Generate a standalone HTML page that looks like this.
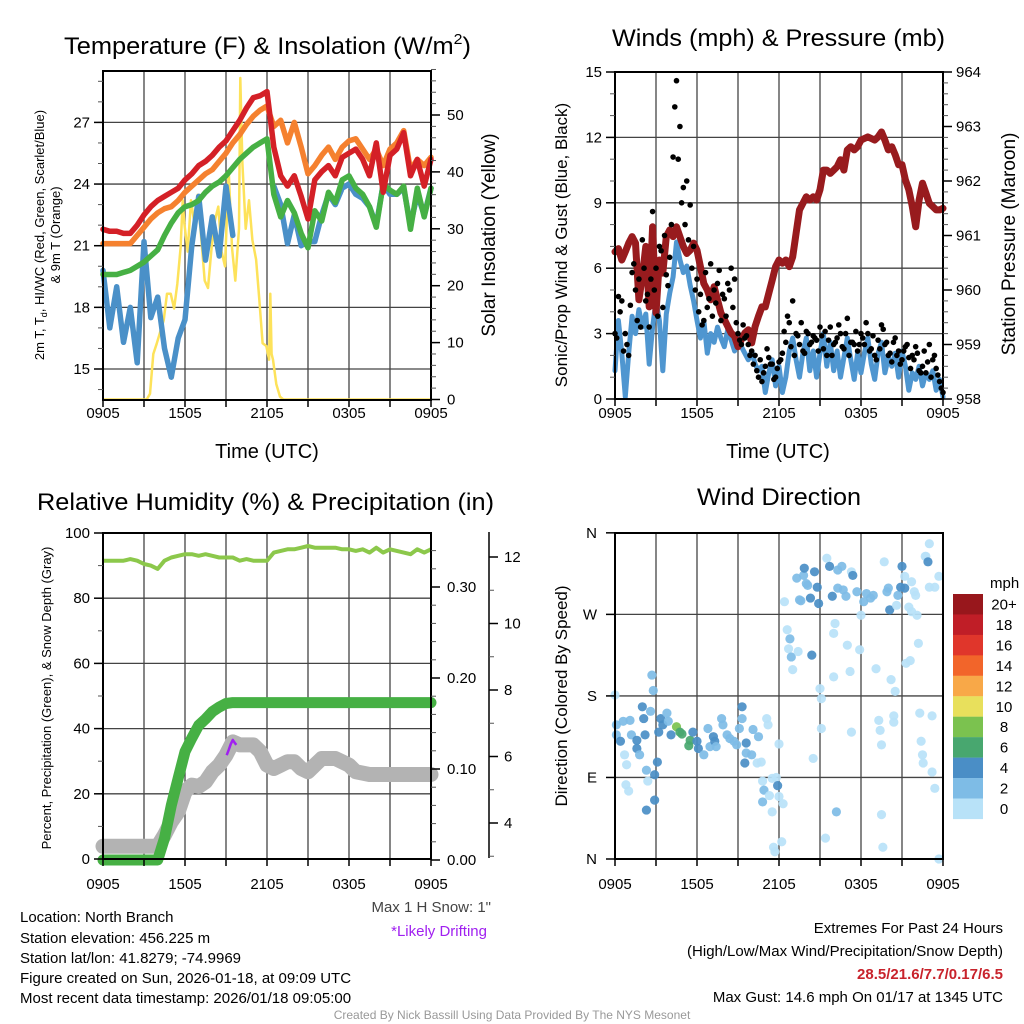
<!DOCTYPE html>
<html><head><meta charset="utf-8"><title>NYS Mesonet - North Branch</title>
<style>
html,body{margin:0;padding:0;background:#fff;}
svg{display:block;font-family:"Liberation Sans",Arial,sans-serif;}
</style></head>
<body>
<svg id="fig" width="1024" height="1024" viewBox="0 0 1024 1024" xmlns="http://www.w3.org/2000/svg">
<rect width="1024" height="1024" fill="#fff"/>
<g id="p1"></g>
<g id="p2"></g>
<g id="p3"></g>
<g id="p4"></g>

<text x="64" y="54" font-size="24" textLength="407" lengthAdjust="spacingAndGlyphs">Temperature (F) &amp; Insolation (W/m<tspan font-size="15" dy="-10">2</tspan><tspan dy="10">)</tspan></text>
<text x="612" y="46" font-size="24" textLength="333" lengthAdjust="spacingAndGlyphs">Winds (mph) &amp; Pressure (mb)</text>
<text x="37" y="510" font-size="24" textLength="457" lengthAdjust="spacingAndGlyphs">Relative Humidity (%) &amp; Precipitation (in)</text>
<text x="697" y="505" font-size="24" textLength="164" lengthAdjust="spacingAndGlyphs">Wind Direction</text>

<text x="267" y="458" font-size="20" text-anchor="middle">Time (UTC)</text>
<text x="778" y="458" font-size="20" text-anchor="middle">Time (UTC)</text>

<text transform="translate(44,235) rotate(-90)" font-size="13" text-anchor="middle">2m T, T<tspan font-size="9" dy="3">d</tspan><tspan dy="-3">, HI/WC (Red, Green, Scarlet/Blue)</tspan></text>
<text transform="translate(60,235) rotate(-90)" font-size="13" text-anchor="middle">&amp; 9m T (Orange)</text>
<text transform="translate(495,235) rotate(-90)" font-size="19" text-anchor="middle">Solar Insolation (Yellow)</text>
<text transform="translate(567,245) rotate(-90)" font-size="17" text-anchor="middle">Sonic/Prop Wind &amp; Gust (Blue, Black)</text>
<text transform="translate(1015,244) rotate(-90)" font-size="19" text-anchor="middle">Station Pressure (Maroon)</text>
<text transform="translate(51,698) rotate(-90)" font-size="13" text-anchor="middle">Percent, Precipitation (Green), &amp; Snow Depth (Gray)</text>
<text transform="translate(567,696) rotate(-90)" font-size="17" text-anchor="middle">Direction (Colored By Speed)</text>

<g font-size="15">
<text x="20" y="922">Location: North Branch</text>
<text x="20" y="943">Station elevation: 456.225 m</text>
<text x="20" y="963">Station lat/lon: 41.8279; -74.9969</text>
<text x="20" y="983">Figure created on Sun, 2026-01-18, at 09:09 UTC</text>
<text x="20" y="1003">Most recent data timestamp: 2026/01/18 09:05:00</text>
</g>
<text x="491" y="912" font-size="15" fill="#444" text-anchor="end">Max 1 H Snow: 1"</text>
<text x="487" y="936" font-size="15" fill="#a020f0" text-anchor="end">*Likely Drifting</text>
<g font-size="15" text-anchor="end">
<text x="1003" y="933">Extremes For Past 24 Hours</text>
<text x="1003" y="956">(High/Low/Max Wind/Precipitation/Snow Depth)</text>
<text x="1003" y="979" fill="#c8232c" font-weight="bold">28.5/21.6/7.7/0.17/6.5</text>
<text x="1003" y="1002">Max Gust: 14.6 mph On 01/17 at 1345 UTC</text>
</g>
<text x="512" y="1019" font-size="12" fill="#999" text-anchor="middle">Created By Nick Bassill Using Data Provided By The NYS Mesonet</text>
</svg>
<script>
// ---------- DATA ----------
const xTickLabels = ["0905","1505","2105","0305","0905"];
// Panel 1 (half-hour steps from 0905 UTC)
const tempRed = [21.8,21.7,21.7,21.6,21.6,22.0,22.5,22.9,23.2,23.4,23.6,23.8,24.2,24.5,24.9,25.1,25.4,25.8,26.1,26.6,27.1,27.7,28.2,28.3,28.5,25.8,24.4,23.9,24.4,23.4,22.3,24.2,24.6,24.9,24.4,25.3,25.5,25.7,25.2,24.4,26.0,23.6,25.4,25.7,26.5,24.4,25.2,23.9,25.2];
const temp9m = [21.1,21.1,21.1,21.1,21.1,21.5,21.9,22.3,22.6,22.8,22.9,23.2,23.6,23.9,24.2,24.5,24.7,25.1,25.5,26.0,26.4,26.9,27.3,27.6,27.8,26.8,27.1,26.0,27.0,25.8,24.5,24.9,25.4,25.8,25.2,25.8,26.1,26.2,25.7,25.2,25.7,24.9,25.7,26.0,26.6,24.7,25.2,24.9,25.3];
const dewGreen = [19.6,19.6,19.6,19.7,19.8,20.0,20.2,20.5,20.8,21.5,22.1,22.6,22.9,23.0,23.2,23.6,23.9,24.1,24.4,24.8,25.2,25.5,25.8,26.0,26.2,23.5,22.4,23.2,22.6,21.6,20.9,22.7,22.2,23.6,23.1,24.2,24.4,23.8,23.5,22.9,21.9,24.0,23.7,23.5,23.9,21.8,23.8,22.4,23.8];
const windChill = [19.8,17.0,19.0,16.3,18.0,15.3,21.2,17.5,18.5,16.0,14.6,16.5,17.4,21.0,23.4,20.3,22.4,20.5,23.9,21.5,null,null,null,null,null,23.9,23.0,21.1,22.5,21.0,21.2,21.2,22.5,23.5,23.0,23.8,24.0,23.5,23.3,22.9,22.0,24.0,23.5,23.5,23.8,22.0,23.5,22.5,23.8];
const insHours = [0,3.2,3.44,3.68,3.93,4.2,4.44,4.68,4.95,5.2,5.44,5.68,5.83,5.95,6.2,6.44,6.68,6.93,7.2,7.44,7.68,7.95,8.2,8.44,8.68,8.93,9.2,9.44,9.68,9.95,10.05,10.2,10.44,10.68,10.93,11.2,11.44,11.68,11.95,12.15,12.24,12.34,12.44,12.68,12.95,13.2,24];
const insValues = [0,0,1,8,9.8,12,13.9,18.6,18.6,16,20.3,26.7,35,31,26,35,31,36,28,20.9,19.6,26.7,31.6,33.9,26,23.4,40.2,26.7,20.9,30,56.5,41.5,30,35,28,24.6,17.6,9.9,9.4,7,18.6,8,7,2.7,0.5,0,0];
// Panel 2 (quarter-hour steps)
const pressure = [960.70,960.76,960.55,960.70,960.86,960.98,960.86,959.82,960.24,960.80,959.69,961.16,959.58,960.55,960.31,960.98,961.10,960.98,961.16,960.98,960.80,960.67,960.73,960.86,960.73,960.43,960.12,960.00,959.82,960.06,959.82,959.58,959.46,959.33,959.21,959.15,958.96,959.09,959.21,959.27,959.03,959.33,959.52,959.69,959.69,959.94,960.18,960.43,960.55,960.49,960.55,960.43,960.61,961.04,961.47,961.59,961.71,961.65,961.71,961.65,961.84,962.20,962.20,962.14,962.20,962.26,962.39,962.20,962.57,962.63,962.57,962.63,962.75,962.78,962.81,962.78,962.75,962.81,962.90,962.75,962.57,962.63,962.48,962.30,962.30,962.02,961.84,961.53,961.16,961.65,961.96,961.78,961.59,961.53,961.47,961.47,961.50];
const windSpeed = [1.3,3.6,2.1,0.1,2.1,3.8,3.0,4.1,3.3,3.9,1.6,3.3,4.5,3.6,1.3,3.9,4.85,5.6,7.2,6.4,5.8,6.1,5.2,4.5,3.6,2.8,3.6,2.1,3.0,2.6,3.3,2.8,2.4,3.2,2.7,2.2,2.8,2.4,2.1,1.8,2.2,1.6,1.3,1.5,0.3,1.2,1.8,0.6,1.5,0.3,1.0,2.2,2.8,1.8,1.0,2.1,2.8,1.3,2.2,1.0,2.1,3.0,1.5,2.6,1.3,2.2,1.0,1.9,2.8,1.8,0.9,2.1,1.2,2.1,2.8,1.6,0.9,2.1,2.6,1.2,1.9,1.5,2.1,1.0,2.2,1.5,0.4,1.2,0.9,1.5,0.6,1.2,0.9,1.3,0.4,0.9,0.1];
const gustA = [3.0,4.7,4.5,3.0,2.0,5.8,5.0,5.5,7.3,4.5,3.3,8.6,6.0,7.0,4.2,5.7,6.5,11.1,14.6,12.5,9.7,10.0,8.9,7.0,5.5,4.8,3.6,4.2,6.2,5.0,5.3,3.6,4.6,5.3,6.0,5.5,3.0,2.5,2.8,2.5,2.2,2.0,1.0,0.8,1.5,1.9,1.6,1.0,1.7,2.1,2.6,3.5,4.5,3.0,2.5,2.2,3.1,2.5,2.9,2.7,3.3,2.3,2.0,3.3,2.5,2.8,3.0,2.3,3.7,2.6,2.5,2.2,3.0,2.5,3.0,2.3,2.0,2.7,3.4,2.5,2.0,1.7,2.8,2.2,1.8,2.4,1.9,2.0,2.4,1.3,1.5,1.2,2.5,1.8,1.4,0.8,0.3];
const gustB = [2.8,4.0,2.2,2.5,4.3,6.2,3.6,3.3,6.0,4.8,5.5,5.0,3.8,6.8,7.5,5.2,8.0,13.4,11.0,9.0,8.0,7.3,6.0,5.0,4.0,3.4,5.8,4.6,3.8,4.4,5.9,4.8,3.8,5.0,4.2,3.5,2.7,3.4,2.9,2.0,1.6,1.3,1.8,1.2,2.3,1.6,0.9,1.4,1.8,3.1,3.8,2.4,2.0,2.9,3.5,2.1,3.0,2.6,2.8,2.2,2.9,3.1,2.7,2.0,2.6,3.4,2.4,3.0,2.0,2.6,3.1,2.5,2.8,3.5,2.2,2.9,1.8,2.3,3.2,2.6,2.1,2.6,2.0,1.6,2.2,2.5,1.4,1.8,2.1,1.2,2.2,1.7,1.0,2.0,1.1,0.5];
// Panel 3 (half-hour steps)
const relHum = [91.5,91.5,91.5,91.5,92,91.5,90.5,90,89,91.5,92.5,93,93.5,93.5,93,93.5,93,92.5,92.5,92.5,91.5,92,91.5,91.5,91.5,94,94.5,95,95,95.5,96,95.5,95.5,95.5,95.5,95,95,94.5,95,94,95.5,94,95,94.5,94,93.5,95,94,95];
const precip = [0,0,0,0,0,0,0,0,0,0.024,0.06,0.09,0.119,0.134,0.148,0.155,0.163,0.168,0.172,0.173,0.173,0.173,0.173,0.173,0.173,0.173,0.173,0.173,0.173,0.173,0.173,0.173,0.173,0.173,0.173,0.173,0.173,0.173,0.173,0.173,0.173,0.173,0.173,0.173,0.173,0.173,0.173,0.173,0.173];
const snowDepth = [3.3,3.3,3.3,3.3,3.3,3.3,3.3,3.3,3.3,3.64,4.04,4.34,4.94,5.14,5.1,5.24,5.54,5.74,6.04,6.44,6.35,6.35,6.35,6.15,5.74,5.64,5.74,5.84,5.84,5.64,5.54,5.74,5.94,5.94,5.94,5.84,5.74,5.54,5.5,5.46,5.46,5.46,5.46,5.46,5.46,5.46,5.46,5.46,5.46];
const driftHours = [9.05,9.2,9.35,9.5,9.62,9.75];
const driftSnow = [6.04,6.2,6.38,6.5,6.42,6.35];
// Panel 4
const dirHours = [0,0.1,0.6,1.1,0.1,0.4,0.7,0.85,0.8,1,1.2,1.6,1.6,1.8,2,2.1,2.2,2.3,2.4,2.3,2.7,2.8,2.6,2.9,2.9,3.1,3.2,3.35,3.5,3.8,3.9,4.1,4.5,4.75,4.9,5.5,5.4,5.7,6,6.1,6.5,6.8,6.95,7.2,7.3,7.4,7.8,7.9,8.2,8.4,8.7,8.9,9.1,9.3,9.3,9.6,9.5,9.6,10,10.1,10.5,10.4,10.7,11.1,11.2,10.8,10.9,10.8,11.3,11.5,11.5,11.8,11.9,12,12,12.3,11.6,11.7,12.2,12.4,12.6,12.7,12.8,12.9,13,13.4,13.3,13.8,13.85,14,14.1,13.5,13.6,14.3,14.4,14.5,14.6,14.8,14.9,15,15.1,15.1,15.4,15.5,15.7,15.9,16,16.1,16,16.2,16.3,16.3,16.6,16.7,16.9,17,17.2,17.3,17.3,17.4,17.7,17.9,18,18.2,18.4,18.7,18.9,19.1,19.3,19.4,19.5,19.5,19.6,19.7,19.9,20,20.1,20.2,20.4,20.4,20.5,20.6,20.7,20.9,21,21.2,21.2,21.3,21.5,21.6,21.7,21.7,21.9,22,22.1,22.2,22.3,22.4,22.5,22.55,22.7,22.75,22.9,23,23.2,23.2,23.4,23,23.4,23.7,23.7];
const dirDeg = [181,148,152,153,137,130,115,104,82,75,137,131,122,115,168,155,137,98,86,54,203,186,163,93,65,107,140,155,148,161,152,137,146,140,138,131,125,140,130,122,115,144,124,135,130,124,155,148,137,133,130,126,144,168,155,128,106,117,115,143,135,106,107,155,148,86,76,63,70,89,52,90,81,127,69,61,13,8,19,284,253,232,243,223,209,229,310,313,321,304,302,286,285,288,225,111,317,300,282,188,177,144,23,332,323,290,201,260,249,52,319,299,323,297,290,236,207,140,317,313,295,231,269,284,293,288,291,210,153,142,126,49,13,328,295,299,275,198,158,151,185,280,291,300,323,312,299,216,278,219,273,306,295,291,269,238,161,130,115,106,334,334,328,348,158,96,78,300,300,312,0];
const dirSpeed = [1,3,3,3,3,4.5,1,1,1,1,3,4.5,4.5,3,4.5,4.5,4.5,3,1,4.5,3,3,3,4.5,4.5,4.5,4.5,4.5,4.5,3,3,4.5,8.5,7,7,7,7,4.5,4.5,4.5,3,3,3,4.5,4.5,3,3,3,3,3,3,3,3,4.5,3,4.5,4.5,3,3,3,3,1,1,1,1,1,3,3,1,1,1,1,4.5,1,1,1,1,1,1,1,1,1,3,3,1,1,3,3,4.5,3,3,3,3,4.5,4.5,1,4.5,4.5,4.5,1,1,1,1,1,4.5,4.5,1,1,1,3,3,3,3,3,3,1,1,1,1,4.5,3,1,1,3,3,3,3,1,1,1,1,1,1,1,3,3,4.5,1,1,1,1,1,3,4.5,4.5,1,4.5,1,1,1,1,1,1,1,1,1,1,1,1,1,1,1,4.5,1,1,1,1,1,1,1,1,1];
const cbarLabels = ["20+","18","16","14","12","10","8","6","4","2","0"];
const cbarColors = ["#98171c","#c01e27","#e0362b","#f2652a","#f8a848","#e8e05c","#7bc24f","#48a76f","#4a8ec6","#7ebce6","#b8e2f8"];

// ---------- HELPERS ----------
const NS = "http://www.w3.org/2000/svg";
function mk(parent, tag, attrs){ const e=document.createElementNS(NS,tag); for(const k in attrs) e.setAttribute(k,attrs[k]); parent.appendChild(e); return e; }
function hourX(x0){ return h => x0 + h*328/24; }
function speedColor(s){ const idx = Math.min(10, Math.max(0, 10 - Math.floor(s/2))); return cbarColors[idx]; }

function frame(g, x0, y0, y1, gridYs, name){
  const X = hourX(x0);
  for(let h=3; h<24; h+=3){
    const gl = mk(g,"line",{x1:X(h),x2:X(h),y1:y0,y2:y1,stroke:"#444","stroke-width":1.3});
    
    
  }
  gridYs.forEach(y=>{
    const gl = mk(g,"line",{x1:x0,x2:x0+328,y1:y,y2:y,stroke:"#444","stroke-width":1.3});
    
    
  });
}
function border(g,x0,y0,y1,name){
  const r = mk(g,"rect",{x:x0,y:y0,width:328,height:y1-y0,fill:"none",stroke:"#000","stroke-width":2});
  
  
}
function xAxis(g, x0, y1, labelY, name){
  const X = hourX(x0);
  for(let h=0; h<=24; h+=3){
    const t = mk(g,"line",{x1:X(h),x2:X(h),y1:y1,y2:y1+7,stroke:"#000","stroke-width":1.5});
    
    
  }
  xTickLabels.forEach((lab,i)=>{
    const t = mk(g,"text",{x:X(i*6),y:labelY,"font-size":15,"text-anchor":"middle"});
    t.textContent = lab;
    
    
  });
}
function yAxis(g, ax, side, yFn, majors, minors, fmt, name, labelOff){
  const dir = side==="left" ? -1 : 1;
  minors.forEach(v=>{
    const t = mk(g,"line",{x1:ax,x2:ax+dir*5,y1:yFn(v),y2:yFn(v),stroke:"#555","stroke-width":1});
    
    
  });
  majors.forEach(v=>{
    const y=yFn(v);
    const t = mk(g,"line",{x1:ax,x2:ax+dir*9,y1:y,y2:y,stroke:"#000","stroke-width":1.5});
    
    
    const lab = mk(g,"text",{x:ax+dir*(labelOff||13),y:y+5,"font-size":15,"text-anchor":side==="left"?"end":"start"});
    lab.textContent = fmt(v);
    
    
  });
}
function range(a,b,s){ const r=[]; for(let v=a; v<=b+1e-9; v+=s) r.push(+v.toFixed(4)); return r; }
function linePath(hours, vals, X, Y){
  let d="", pen=false;
  vals.forEach((v,i)=>{ if(v===null){pen=false;return;} d += (pen?"L":"M")+X(hours[i]).toFixed(1)+","+Y(v).toFixed(1); pen=true; });
  return d;
}
const halfHours = tempRed.map((_,i)=>i*0.5);
const quarterHours = pressure.map((_,i)=>i*0.25);

// ---------- PANEL 1 ----------
(function(){
  const g=document.getElementById("p1");
  const x0=103, y0=71, y1=400, X=hourX(x0);
  const yT = t => 369-(t-15)*20.55;
  const yI = v => 399.5-v*5.69;
  frame(g,x0,y0,y1,[15,18,21,24,27].map(yT),"temp");
  const ins = mk(g,"path",{d:linePath(insHours,insValues,X,yI),fill:"none",stroke:"#fde25a","stroke-width":2.5,"stroke-linejoin":"round"});
  
  
  [[windChill,"#4a90c8","wind-chill-line"],[dewGreen,"#46b044","dewpoint-line"],[temp9m,"#f5812f","temp-9m-line"],[tempRed,"#d42027","temp-2m-line"]].forEach(([arr,col,nm])=>{
    const p = mk(g,"path",{d:linePath(halfHours,arr,X,yT),fill:"none",stroke:col,"stroke-width":5.5,"stroke-linejoin":"round","stroke-linecap":"round"});
    
    
  });
  border(g,x0,y0,y1,"temp");
  yAxis(g,x0,"left",yT,[15,18,21,24,27],range(14,29,1),v=>String(v),"temp-y",13);
  yAxis(g,x0+328,"right",yI,[0,10,20,30,40,50],range(0,58,2),v=>String(v),"insolation-y",16);
  xAxis(g,x0,y1,418,"temp");
})();

// ---------- PANEL 2 ----------
(function(){
  const g=document.getElementById("p2");
  const x0=615, y0=72, y1=399, X=hourX(x0);
  const yW = m => 399-m*21.8;
  const yP = p => 399-(p-958)*54.5;
  frame(g,x0,y0,y1,[3,6,9,12].map(yW),"winds");
  const w = mk(g,"path",{d:linePath(quarterHours,windSpeed,X,yW),fill:"none",stroke:"#4f96d0","stroke-width":5,"stroke-linejoin":"round","stroke-linecap":"round"});
  
  
  const p = mk(g,"path",{d:linePath(quarterHours,pressure,X,yP),fill:"none",stroke:"#981b1e","stroke-width":7,"stroke-linejoin":"round","stroke-linecap":"round"});
  
  
  gustA.forEach((v,i)=>{
    const c = mk(g,"circle",{cx:X(i*0.25),cy:yW(v),r:2.8,fill:"#000"});
    
    
  });
  gustB.forEach((v,i)=>{
    const c = mk(g,"circle",{cx:X(i*0.25+0.125),cy:yW(v),r:2.8,fill:"#000"});
    
    
  });
  border(g,x0,y0,y1,"winds");
  yAxis(g,x0,"left",yW,[0,3,6,9,12,15],range(0,15,1),v=>String(v),"wind-y",13);
  yAxis(g,x0+328,"right",yP,[958,959,960,961,962,963,964],range(958,964,0.2),v=>String(v),"pressure-y",13);
  xAxis(g,x0,y1,418,"winds");
})();

// ---------- PANEL 3 ----------
(function(){
  const g=document.getElementById("p3");
  const x0=103, y0=533, y1=859, X=hourX(x0);
  const yRH = r => 859-r*3.26;
  const yPr = p => 860-p*910;
  const ySn = s => 823-(s-4)*33.25;
  frame(g,x0,y0,y1,[20,40,60,80].map(yRH),"humidity");
  const sn = mk(g,"path",{d:linePath(halfHours,snowDepth,X,ySn),fill:"none",stroke:"#b3b3b3","stroke-width":15,"stroke-linejoin":"round","stroke-linecap":"round"});
  
  
  const pr = mk(g,"path",{d:linePath(halfHours,precip,X,yPr),fill:"none",stroke:"#46b044","stroke-width":11,"stroke-linejoin":"round","stroke-linecap":"round"});
  
  
  const rh = mk(g,"path",{d:linePath(halfHours,relHum,X,yRH),fill:"none",stroke:"#8cc84b","stroke-width":4,"stroke-linejoin":"round"});
  
  
  const dr = mk(g,"path",{d:linePath(driftHours,driftSnow,X,ySn),fill:"none",stroke:"#a020f0","stroke-width":2.5,"stroke-linejoin":"round"});
  
  
  border(g,x0,y0,y1,"humidity");
  yAxis(g,x0,"left",yRH,[0,20,40,60,80,100],range(0,100,10),v=>String(v),"rh-y",13);
  yAxis(g,x0+328,"right",yPr,[0,0.1,0.2,0.3],range(0,0.34,0.02),v=>v.toFixed(2),"precip-y",16);
  const ax = mk(g,"line",{x1:489,x2:489,y1:532,y2:858,stroke:"#000","stroke-width":1.5});
  
  
  yAxis(g,489,"right",ySn,[4,6,8,10,12],range(3,12,1),v=>String(v),"snow-y",15);
  xAxis(g,x0,y1,889,"humidity");
})();

// ---------- PANEL 4 ----------
(function(){
  const g=document.getElementById("p4");
  const x0=615, y0=533, y1=859, X=hourX(x0);
  const yD = d => 859-d*0.906;
  frame(g,x0,y0,y1,[90,180,270].map(yD),"direction");
  dirDeg.forEach((d,i)=>{
    const c = mk(g,"circle",{cx:X(dirHours[i]),cy:yD(d),r:4.6,fill:speedColor(dirSpeed[i]),"fill-opacity":0.92});
    
    
  });
  border(g,x0,y0,y1,"direction");
  const labs=["N","E","S","W","N"];
  [0,90,180,270,360].forEach((d,i)=>{
    const t = mk(g,"line",{x1:x0,x2:x0-9,y1:yD(d),y2:yD(d),stroke:"#000","stroke-width":1.5});
    
    
    const l = mk(g,"text",{x:x0-18,y:yD(d)+5,"font-size":15,"text-anchor":"end"});
    l.textContent = labs[i];
    
    
  });
  xAxis(g,x0,y1,889,"direction");
  const cb = mk(g,"g",{});
  
  
  const mph = mk(cb,"text",{x:990,y:588,"font-size":15});
  mph.textContent="mph";
  
  
  cbarColors.forEach((col,i)=>{
    const r = mk(cb,"rect",{x:953,y:594+i*20.45,width:30,height:20.6,fill:col});
    
    
    const t = mk(cb,"text",{x:1004,y:594+i*20.45+15.5,"font-size":15,"text-anchor":"middle"});
    t.textContent = cbarLabels[i];
    
    
  });
})();
</script>
</body></html>
